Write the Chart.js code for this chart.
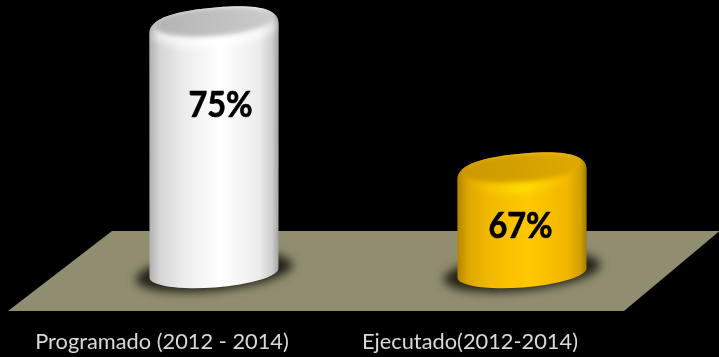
<!DOCTYPE html>
<html><head><meta charset="utf-8">
<style>html,body{margin:0;padding:0;background:#000;overflow:hidden}#w{position:relative;width:719px;height:357px}</style>
<script src="https://cdn.jsdelivr.net/npm/chart.js@4"></script></head>
<body><div id="w"><canvas id="c" width="719" height="357"></canvas></div>
<script>
const categories = ['Programado (2012 - 2014)', 'Ejecutado(2012-2014)'];
const values = [75, 67];
const valueLabels = ['75%', '67%'];
const bodyColors = [
  [[0,'#b0b0b0'],[.08,'#d4d4d4'],[.25,'#ebebeb'],[.55,'#ffffff'],[.85,'#ececec'],[.95,'#cdcdcd'],[1,'#a2a2a2']],
  [[0,'#b08500'],[.08,'#dca600'],[.25,'#f2b900'],[.55,'#ffc800'],[.85,'#f0b600'],[.95,'#d3a000'],[1,'#a37b00']]
];
const capColors = [['#b2b2b2','#cdcdcd'],['#c99800','#e0aa00']];
const rimColors = [['rgba(255,255,255,0.75)','#ffffff'],['rgba(255,200,0,0)','#ffe800']];

const scene = {
  id:'scene',
  beforeDatasetsDraw(chart){
    const c = chart.ctx; const a = chart.chartArea;
    c.save();
    c.fillStyle = '#918d70';
    c.beginPath();
    c.moveTo(112,231); c.lineTo(719,231); c.lineTo(719,231.5); c.lineTo(624,311); c.lineTo(8,311);
    c.closePath(); c.fill();
    c.restore();
    const rot = -4.4*Math.PI/180;
    chart.getDatasetMeta(0).data.forEach((b,i)=>{
      const cx=b.x, rx=b.width/2, ty=b.y, by=a.bottom, ry=14.5;
      // floor shadow
      c.save();
      c.filter='blur(5px)';
      c.fillStyle='rgba(25,25,15,0.92)';
      c.beginPath(); c.ellipse(cx,by-1,rx+14,ry+4,rot*1.3,0,Math.PI*2); c.fill();
      c.restore();
      // silhouette: tilted base arc, straight sides, rounded shoulders
      c.save();
      const tilt=Math.tan(rot);
      const drop=6;
      c.beginPath();
      c.ellipse(cx,by,rx,ry,rot,0,Math.PI);
      const lx0=cx-rx, rx0=cx+rx;
      const lTop=ty-tilt*rx+drop, rTop=ty+tilt*rx+drop;
      const midX=cx+4, midY=ty-ry-0.5;
      c.lineTo(lx0,lTop);
      c.bezierCurveTo(lx0,lTop-drop-ry*0.6, midX-rx*0.66,midY-tilt*rx*0.66, midX,midY);
      c.bezierCurveTo(midX+rx*0.54,midY+tilt*rx*0.54, rx0,rTop-drop-ry*0.7, rx0,rTop);
      c.closePath();
      c.clip();
      const g=c.createLinearGradient(cx-rx,0,cx+rx,0);
      bodyColors[i].forEach(s=>g.addColorStop(s[0],s[1]));
      c.fillStyle=g; c.fillRect(cx-rx-2,ty-30,2*rx+4,by-ty+60);
      // front rim highlight
      c.filter='blur(4px)';
      const rg=c.createLinearGradient(cx-rx,0,cx+rx,0);
      rg.addColorStop(0.05,rimColors[i][0]); rg.addColorStop(0.5,rimColors[i][1]); rg.addColorStop(0.95,rimColors[i][0]);
      c.strokeStyle=rg; c.lineWidth=9;
      c.beginPath(); c.ellipse(cx,ty+3,rx-6,ry+2,rot,0.1,Math.PI-0.1); c.stroke();
      // flat top
      c.filter='blur(2px)';
      const g2=c.createLinearGradient(cx-rx,ty-ry,cx+rx,ty+ry);
      g2.addColorStop(0,capColors[i][0]); g2.addColorStop(1,capColors[i][1]);
      c.fillStyle=g2;
      c.beginPath(); c.ellipse(cx,ty-0.5,rx-5,ry-0.5,rot,0,Math.PI*2); c.fill();
      c.restore();
      // value label
      c.save();
      c.fillStyle='#000'; c.strokeStyle='#000'; c.lineWidth=0.7;
      c.font='bold 36px Lato'; c.textAlign='center'; c.textBaseline='middle';
      const lx = i===0 ? cx+6.5 : cx-1.5;
      const ly = i===0 ? 105 : 226;
      c.translate(lx,ly); c.scale(0.9,1);
      c.fillText(valueLabels[i],0,0); c.strokeText(valueLabels[i],0,0);
      c.restore();
    });
  }
};
new Chart(document.getElementById('c'),{
  type:'bar',
  data:{labels:categories,datasets:[{data:values,backgroundColor:'rgba(0,0,0,0)',borderWidth:0,barPercentage:0.42,categoryPercentage:1}]},
  plugins:[scene],
  options:{
    responsive:false,animation:false,
    layout:{padding:{left:60,right:43,top:4,bottom:0}},
    plugins:{legend:{display:false},tooltip:{enabled:false}},
    scales:{
      x:{grid:{display:false},border:{display:false},
         afterFit(s){s.height=84;},
         ticks:{color:'#d9d9d9',font:{family:'Lato',size:21.8},labelOffset:-52,padding:48,maxRotation:0,autoSkip:false}},
      y:{display:false,min:61.25,max:76}
    }
  }
});
</script></body></html>
